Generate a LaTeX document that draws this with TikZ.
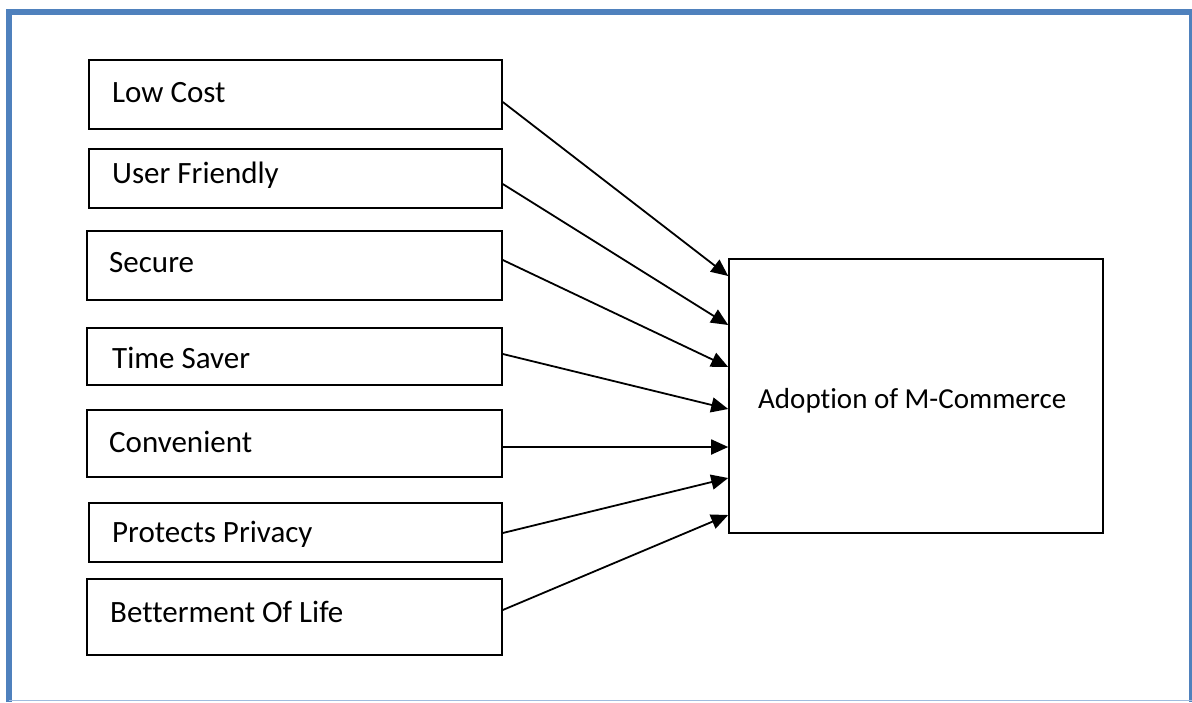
\documentclass[tikz,border=0pt]{standalone}
\usepackage{fontspec}
\setmainfont[RawFeature=-liga]{Carlito}
\usetikzlibrary{arrows.meta,calc}
\definecolor{frameblue}{RGB}{79,129,189}
\definecolor{framelight}{RGB}{160,188,222}
\begin{document}
\begin{tikzpicture}[x=1pt,y=-1pt,
  factor/.style={draw=black,line width=1.6pt,rectangle,inner sep=0pt},
  lbl/.style={anchor=base west,inner sep=0pt,font=\fontsize{31}{36}\selectfont},
  biglbl/.style={anchor=base west,inner sep=0pt,font=\fontsize{29}{34}\selectfont},
  conn/.style={line width=1.8pt,-{Triangle[length=17pt,width=15pt]}}]
\useasboundingbox (0,0) rectangle (1192,702);
% frame
\draw[frameblue,line width=6pt] (9,702) -- (9,12) -- (1192,12) -- (1192,702);
\draw[framelight,line width=1.5pt] (9,700.5) -- (1192,700.5);
% boxes
\node[factor,minimum width=413pt,minimum height=69pt] (lc) at (295.5,94.5) {};
\node[factor,minimum width=413pt,minimum height=59pt] (uf) at (295.5,178.5) {};
\node[factor,minimum width=415pt,minimum height=69pt] (se) at (294.5,265.5) {};
\node[factor,minimum width=415pt,minimum height=57pt] (ts) at (294.5,356.5) {};
\node[factor,minimum width=415pt,minimum height=67pt] (cv) at (294.5,443.5) {};
\node[factor,minimum width=413pt,minimum height=59pt] (pp) at (295.5,532.5) {};
\node[factor,minimum width=415pt,minimum height=76pt] (bl) at (294.5,617) {};
\node[factor,minimum width=374pt,minimum height=274pt] (ad) at (916,396) {};
% labels
\node[lbl] (tlc) at (112,102) {Low Cost};
\node[lbl] (tuf) at (112,183) {User Friendly};
\node[lbl] (tse) at (109,272) {Secure};
\node[lbl] (tts) at (112,368) {Time Saver};
\node[lbl] (tcv) at (109,452) {Convenient};
\node[lbl] (tpp) at (112,542) {Protects Privacy};
\node[lbl] (tbl) at (110,622) {Betterment Of Life};
\node[biglbl] (tad) at (758,408) {Adoption of M-Commerce};
% connectors
\draw[conn] ($(lc.east)+(0,7.5)$) -- ($(ad.west)+(0,-120)$);
\draw[conn] ($(uf.east)+(0,5.5)$) -- ($(ad.west)+(0,-71)$);
\draw[conn] ($(se.east)+(0,-5.5)$) -- ($(ad.west)+(0,-29)$);
\draw[conn] ($(ts.east)+(0,-2.5)$) -- ($(ad.west)+(0,13)$);
\draw[conn] ($(cv.east)+(0,3.5)$) -- ($(ad.west)+(0,51)$);
\draw[conn] ($(pp.east)+(0,0.5)$) -- ($(ad.west)+(0,82)$);
\draw[conn] ($(bl.east)+(0,-7)$) -- ($(ad.west)+(0,119)$);
\end{tikzpicture}
\end{document}
